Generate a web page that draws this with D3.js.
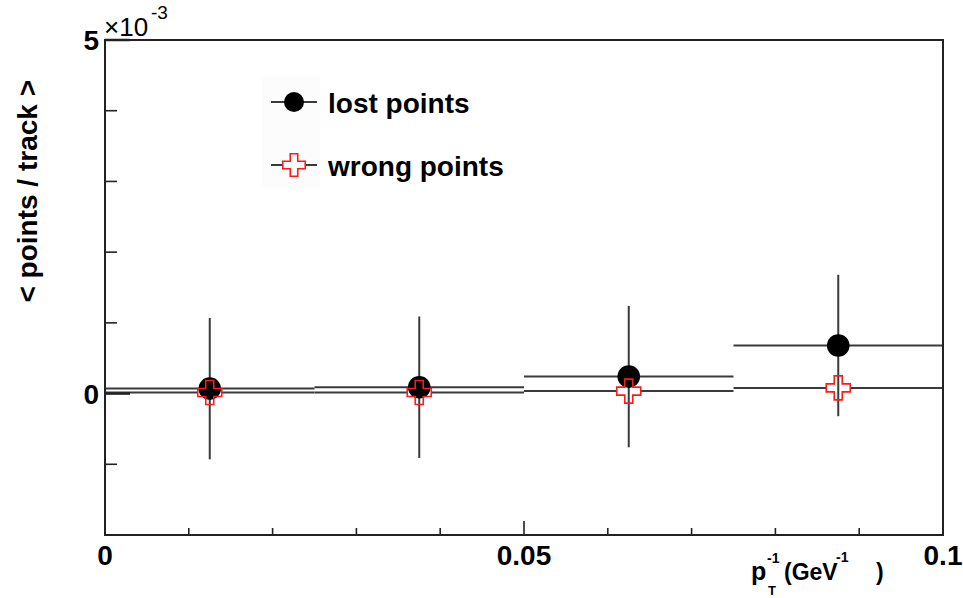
<!DOCTYPE html>
<html>
<head>
<meta charset="utf-8">
<script src="https://cdn.jsdelivr.net/npm/d3@7"></script>
<style>
  body { margin: 0; background: #fff; }
  text { font-family: "Liberation Sans", Arial, sans-serif; font-weight: bold; fill: #000; }
</style>
</head>
<body>
<div id="chart"></div>
<script>
// bin centres (GeV^-1) and half bin width
var binCenters = [0.0125, 0.0375, 0.0625, 0.0875];
var binHalf = 0.0125;
// values in units of 1e-3
var lostPoints = [0.07, 0.09, 0.24, 0.68];
var lostErrors = [1.0, 1.0, 1.0, 1.0];
var wrongPoints = [0.015, 0.015, 0.035, 0.08];
var wrongErrors = [0, 0, 0, 0];
var legendLabels = ["lost points", "wrong points"];
var xMajorTicks = [0, 0.05, 0.1];
var xMinorTicks = [0.01, 0.02, 0.03, 0.04, 0.06, 0.07, 0.08, 0.09];
var yMajorTicks = [0, 5];
var yMinorTicks = [-1, 1, 2, 3, 4];

var width = 963, height = 598;
var frameL = 105, frameR = 943, frameT = 40, frameB = 535;

var svg = d3.select("#chart")
  .append("svg")
  .attr("width", width)
  .attr("height", height);

var x = d3.scaleLinear().domain([0, 0.1]).range([frameL, frameR]);
var y = d3.scaleLinear().domain([-2, 5]).range([frameB, frameT]);

var lineCol = "#3a3a3a";

// error bars: lost points
var lost = svg.append("g");
binCenters.forEach(function (c, i) {
  lost.append("line")
    .attr("x1", x(c - binHalf)).attr("x2", x(c + binHalf))
    .attr("y1", y(lostPoints[i])).attr("y2", y(lostPoints[i]))
    .attr("stroke", lineCol).attr("stroke-width", 2);
  lost.append("line")
    .attr("x1", x(c)).attr("x2", x(c))
    .attr("y1", y(lostPoints[i] - lostErrors[i])).attr("y2", y(lostPoints[i] + lostErrors[i]))
    .attr("stroke", lineCol).attr("stroke-width", 2);
});

// error bars: wrong points (drawn outside the marker)
var crossSize = 320;
var crossHalf = 3 * Math.sqrt(crossSize / 5) / 2;
var wrong = svg.append("g");
binCenters.forEach(function (c, i) {
  var yy = y(wrongPoints[i]);
  wrong.append("line")
    .attr("x1", x(c - binHalf)).attr("x2", x(c) - crossHalf)
    .attr("y1", yy).attr("y2", yy)
    .attr("stroke", lineCol).attr("stroke-width", 2);
  wrong.append("line")
    .attr("x1", x(c) + crossHalf).attr("x2", x(c + binHalf))
    .attr("y1", yy).attr("y2", yy)
    .attr("stroke", lineCol).attr("stroke-width", 2);
});

// markers
svg.append("g")
  .selectAll("circle")
  .data(binCenters)
  .enter()
  .append("circle")
  .attr("cx", function (d) { return x(d); })
  .attr("cy", function (d, i) { return y(lostPoints[i]); })
  .attr("r", 11.3)
  .attr("fill", "#000");

svg.append("g")
  .selectAll("path")
  .data(binCenters)
  .enter()
  .append("path")
  .attr("d", d3.symbol().type(d3.symbolCross).size(crossSize))
  .attr("transform", function (d, i) { return "translate(" + x(d) + "," + y(wrongPoints[i]) + ")"; })
  .attr("fill", "none")
  .attr("stroke", "#ff1a1a")
  .attr("stroke-width", 1.6);

// frame
svg.append("rect")
  .attr("x", frameL).attr("y", frameT)
  .attr("width", frameR - frameL).attr("height", frameB - frameT)
  .attr("fill", "none")
  .attr("stroke", "#222")
  .attr("stroke-width", 2);

// ticks
var ticks = svg.append("g").attr("stroke", "#222").attr("stroke-width", 1.6);
xMinorTicks.forEach(function (t) {
  ticks.append("line").attr("x1", x(t)).attr("x2", x(t)).attr("y1", frameB).attr("y2", frameB - 7);
});
xMajorTicks.forEach(function (t) {
  ticks.append("line").attr("x1", x(t)).attr("x2", x(t)).attr("y1", frameB).attr("y2", frameB - 14);
});
yMinorTicks.forEach(function (t) {
  ticks.append("line").attr("x1", frameL).attr("x2", frameL + 12).attr("y1", y(t)).attr("y2", y(t));
});
yMajorTicks.forEach(function (t) {
  ticks.append("line").attr("x1", frameL).attr("x2", frameL + 25).attr("y1", y(t)).attr("y2", y(t))
    .attr("stroke-width", 2.5);
});

// tick labels
svg.append("g")
  .selectAll("text")
  .data(xMajorTicks)
  .enter()
  .append("text")
  .attr("x", function (d) { return x(d); })
  .attr("y", 565)
  .attr("text-anchor", "middle")
  .style("font-size", "28px")
  .text(function (d) { return d === 0 ? "0" : String(d); });

svg.append("g")
  .selectAll("text")
  .data(yMajorTicks)
  .enter()
  .append("text")
  .attr("x", 99)
  .attr("y", function (d) { return y(d) + 10; })
  .attr("text-anchor", "end")
  .style("font-size", "28px")
  .text(function (d) { return d; });

// exponent
svg.append("text").attr("x", 104).attr("y", 36).style("font-size", "26px").style("font-weight", "normal")
  .text("\u00d710");
svg.append("text").attr("x", 151).attr("y", 19).style("font-size", "19px").style("font-weight", "normal")
  .text("-3");

// axis titles
svg.append("text")
  .attr("transform", "translate(37,80) rotate(-90)")
  .attr("text-anchor", "end")
  .style("font-size", "28px")
  .text("< points / track >");

var xt = svg.append("g");
xt.append("text").attr("x", 751).attr("y", 580).style("font-size", "25px").text("p");
xt.append("text").attr("x", 767).attr("y", 563).style("font-size", "14px").text("-1");
xt.append("text").attr("x", 768).attr("y", 595).style("font-size", "13px").text("T");
xt.append("text").attr("x", 784).attr("y", 580).style("font-size", "23px").text("(GeV");
xt.append("text").attr("x", 836).attr("y", 562).style("font-size", "14px").text("-1");
xt.append("text").attr("x", 876).attr("y", 580).style("font-size", "23px").text(")");

// legend
var lg = svg.append("g");
lg.append("rect").attr("x", 262).attr("y", 76).attr("width", 58).attr("height", 112)
  .attr("fill", "#fcfcfc");
var legendY = [102, 165];
lg.append("line").attr("x1", 271).attr("x2", 317).attr("y1", legendY[0]).attr("y2", legendY[0])
  .attr("stroke", lineCol).attr("stroke-width", 2);
lg.append("circle").attr("cx", 294).attr("cy", legendY[0]).attr("r", 10).attr("fill", "#000");
var lcs = 280, lch = 3 * Math.sqrt(lcs / 5) / 2;
lg.append("line").attr("x1", 271).attr("x2", 294 - lch).attr("y1", legendY[1]).attr("y2", legendY[1])
  .attr("stroke", lineCol).attr("stroke-width", 2);
lg.append("line").attr("x1", 294 + lch).attr("x2", 317).attr("y1", legendY[1]).attr("y2", legendY[1])
  .attr("stroke", lineCol).attr("stroke-width", 2);
lg.append("path").attr("d", d3.symbol().type(d3.symbolCross).size(lcs))
  .attr("transform", "translate(294," + legendY[1] + ")")
  .attr("fill", "none").attr("stroke", "#ff1a1a").attr("stroke-width", 1.6);
lg.selectAll("text.lab")
  .data(legendLabels)
  .enter()
  .append("text")
  .attr("class", "lab")
  .attr("x", 328)
  .attr("y", function (d, i) { return legendY[i] + 11; })
  .style("font-size", "28px")
  .text(function (d) { return d; });
</script>
</body>
</html>
